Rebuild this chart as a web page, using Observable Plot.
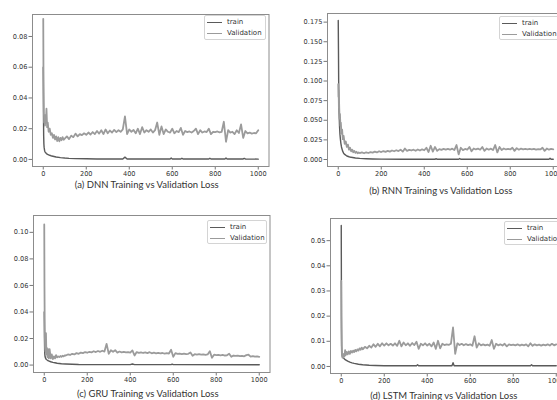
<!DOCTYPE html>
<html><head><meta charset="utf-8">
<script src="https://cdn.jsdelivr.net/npm/d3@7"></script>
<script src="https://cdn.jsdelivr.net/npm/@observablehq/plot@0.6"></script>
<style>
html,body{margin:0;padding:0;background:#fff;overflow:hidden}
#root{position:relative;width:557px;height:400px;overflow:hidden;background:#fff}
.panel{position:absolute}
.legend{position:absolute;box-sizing:border-box;border:1px solid #d4d4d4;border-radius:2px;background:rgba(255,255,255,0.85);font-family:"DejaVu Sans";font-size:7px;color:#333}
.legend .ln{position:absolute;height:0;width:15px}
.legend .tx{position:absolute;line-height:7px;white-space:nowrap}
</style>
</head><body><div id="root"></div>
<script>
// ---- shared x values (epochs) ----
const valEpochs = [0,1,2,3,4,6,8,10,12,15,18,21,25,30,35,40,45,50,55,60,65,70,75,80,85,90,95,
100,110,120,130,140,150,160,170,180,190,200,210,220,230,240,250,260,270,280,290,
300,310,320,330,340,350,360,370,380,390,400,410,420,430,440,450,460,470,480,490,
500,510,520,530,540,550,560,570,580,590,600,610,620,630,640,650,660,670,680,690,
700,710,720,730,740,750,760,770,780,790,800,810,820,830,840,850,860,870,880,890,
900,910,920,930,940,950,960,970,980,990,1000];
const xTicks = [0,200,400,600,800,1000];
const seriesNames = ["train","Validation"];

// ---- (a) DNN ----
const dnnTrainEpochs = [0,1,2,3,4,6,8,10,15,20,30,40,50,60,80,100,120,150,200,250,300,370,380,390,450,590,595,600,640,645,650,770,775,780,845,850,855,930,935,940,1000];
const dnnTrain = [0.06,0.03,0.015,0.010,0.008,0.006,0.005,0.0045,0.0038,0.0033,0.0027,0.0022,0.0019,0.0016,0.0012,0.0009,0.0007,0.0005,0.0004,0.0003,0.0003,0.0003,0.0015,0.0003,0.0003,0.0003,0.0009,0.0003,0.0003,0.0008,0.0003,0.0003,0.0008,0.0003,0.0003,0.0009,0.0003,0.0003,0.0007,0.0003,0.0002];
const dnnVal = [0.0915,0.058,0.043,0.030,0.024,0.029,0.022,0.027,0.024,0.033,0.021,0.024,0.018,0.020,0.016,0.017,0.014,0.016,0.013,0.015,0.012,0.0145,0.0118,0.014,0.0125,0.0145,0.0128,
0.0135,0.015,0.0132,0.0155,0.0145,0.0168,0.0150,0.0165,0.0158,0.0170,0.0160,0.0175,0.0162,0.0178,0.0165,0.0185,0.0168,0.0190,0.0165,0.0195,
0.0170,0.0188,0.0175,0.0192,0.0178,0.0190,0.0180,0.0195,0.0280,0.0165,0.0195,0.0180,0.0192,0.0170,0.0200,0.0165,0.0210,0.0175,0.0190,0.0180,
0.0195,0.0175,0.0190,0.0240,0.0160,0.0215,0.0165,0.0195,0.0180,0.0175,0.0200,0.0170,0.0185,0.0178,0.0205,0.0160,0.0185,0.0178,0.0182,0.0175,
0.0185,0.0200,0.0165,0.0190,0.0175,0.0182,0.0178,0.0200,0.0165,0.0180,0.0178,0.0182,0.0176,0.0180,0.0245,0.0115,0.0190,0.0175,0.0180,0.0165,
0.0190,0.0172,0.0228,0.0140,0.0185,0.0170,0.0175,0.0168,0.0172,0.0170,0.0190];

// ---- (b) RNN ----
const rnnTrainEpochs = [0,1,2,3,4,6,8,10,12,15,20,25,30,40,50,60,80,100,130,160,200,300,450,455,460,560,565,570,980,985,990,1000];
const rnnTrain = [0.177,0.14,0.10,0.075,0.060,0.042,0.032,0.026,0.021,0.016,0.011,0.008,0.0065,0.0045,0.0035,0.0028,0.0019,0.0014,0.0010,0.0007,0.0005,0.0004,0.0003,0.0010,0.0003,0.0003,0.0012,0.0003,0.0003,0.0015,0.0003,0.0003];
const rnnVal = [0.096,0.080,0.088,0.066,0.072,0.052,0.058,0.043,0.047,0.033,0.038,0.026,0.030,0.020,0.023,0.016,0.019,0.0125,0.0150,0.0105,0.0125,0.0092,0.0110,0.0085,0.0098,0.0080,0.0090,
0.0082,0.0090,0.0080,0.0092,0.0083,0.0095,0.0088,0.0100,0.0090,0.0105,0.0095,0.0108,0.0098,0.0110,0.0100,0.0115,0.0105,0.0118,0.0108,0.0125,
0.0100,0.0140,0.0110,0.0122,0.0115,0.0125,0.0112,0.0128,0.0115,0.0130,0.0118,0.0150,0.0095,0.0175,0.0100,0.0160,0.0110,0.0132,0.0122,0.0135,
0.0125,0.0135,0.0125,0.0138,0.0120,0.0185,0.0065,0.0150,0.0120,0.0135,0.0125,0.0160,0.0105,0.0140,0.0128,0.0138,0.0125,0.0160,0.0110,0.0140,
0.0125,0.0138,0.0120,0.0185,0.0090,0.0160,0.0120,0.0140,0.0128,0.0135,0.0128,0.0150,0.0110,0.0145,0.0125,0.0138,0.0128,0.0135,0.0130,0.0135,
0.0128,0.0135,0.0125,0.0132,0.0128,0.0150,0.0110,0.0140,0.0125,0.0135,0.0130];

// ---- (c) GRU ----
const gruTrainEpochs = [0,1,2,3,4,6,8,10,15,20,30,40,50,60,80,100,130,160,200,400,410,420,590,595,600,1000];
const gruTrain = [0.040,0.020,0.010,0.0075,0.0062,0.0052,0.0046,0.0042,0.0036,0.0031,0.0025,0.0020,0.0017,0.0014,0.0010,0.0008,0.0006,0.0004,0.0003,0.0003,0.0008,0.0003,0.0003,0.0007,0.0003,0.0002];
const gruVal = [0.106,0.06,0.035,0.020,0.012,0.010,0.024,0.008,0.013,0.006,0.012,0.005,0.012,0.005,0.008,0.0045,0.0065,0.0050,0.0075,0.0058,0.0065,0.0060,0.0068,0.0062,0.0070,0.0065,0.0072,
0.0072,0.0080,0.0076,0.0085,0.0080,0.0090,0.0085,0.0094,0.0090,0.0098,0.0093,0.0100,0.0096,0.0104,0.0098,0.0106,0.0100,0.0108,0.0102,0.0160,
0.0085,0.0112,0.0100,0.0112,0.0094,0.0102,0.0096,0.0100,0.0095,0.0098,0.0094,0.0110,0.0072,0.0098,0.0092,0.0096,0.0091,0.0095,0.0090,0.0097,
0.0089,0.0093,0.0088,0.0092,0.0088,0.0091,0.0086,0.0090,0.0087,0.0115,0.0062,0.0090,0.0084,0.0087,0.0083,0.0086,0.0082,0.0085,0.0095,0.0070,
0.0082,0.0079,0.0082,0.0078,0.0081,0.0077,0.0080,0.0105,0.0055,0.0078,0.0075,0.0077,0.0073,0.0076,0.0072,0.0074,0.0085,0.0062,0.0072,0.0069,
0.0071,0.0067,0.0070,0.0066,0.0075,0.0078,0.0064,0.0068,0.0063,0.0066,0.0062];

// ---- (d) LSTM ----
const lstmTrainEpochs = [0,1,2,3,4,6,8,10,15,20,30,40,50,60,80,100,130,160,200,350,355,360,515,520,525,880,885,890,1000];
const lstmTrain = [0.056,0.02,0.008,0.005,0.0045,0.0040,0.0037,0.0034,0.0030,0.0026,0.0021,0.0017,0.0014,0.0012,0.0009,0.0007,0.0005,0.0004,0.0003,0.0003,0.0007,0.0003,0.0003,0.0015,0.0003,0.0003,0.0007,0.0003,0.0003];
const lstmVal = [0.034,0.015,0.008,0.005,0.004,0.0035,0.0045,0.0035,0.005,0.0040,0.0065,0.0045,0.0058,0.0048,0.0060,0.0050,0.0062,0.0055,0.0063,0.0057,0.0066,0.0060,0.0068,0.0063,0.0072,0.0066,0.0075,
0.0068,0.0078,0.0072,0.0082,0.0075,0.0088,0.0078,0.0090,0.0080,0.0092,0.0083,0.0092,0.0084,0.0090,0.0083,0.0092,0.0082,0.0102,0.0080,0.0095,
0.0084,0.0092,0.0082,0.0093,0.0085,0.0098,0.0070,0.0090,0.0084,0.0092,0.0083,0.0090,0.0080,0.0095,0.0070,0.0102,0.0072,0.0090,0.0085,0.0088,
0.0086,0.0090,0.0155,0.0050,0.0092,0.0085,0.0090,0.0084,0.0089,0.0085,0.0088,0.0082,0.0120,0.0075,0.0092,0.0084,0.0088,0.0084,0.0087,0.0082,
0.0105,0.0070,0.0090,0.0084,0.0088,0.0083,0.0090,0.0080,0.0088,0.0085,0.0087,0.0084,0.0088,0.0083,0.0087,0.0084,0.0088,0.0080,0.0092,0.0082,
0.0088,0.0084,0.0087,0.0083,0.0087,0.0084,0.0088,0.0083,0.0090,0.0084,0.0088];

// ---- y axes ----
const dnnYTicks = [0,0.02,0.04,0.06,0.08];
const rnnYTicks = [0,0.025,0.05,0.075,0.1,0.125,0.15,0.175];
const gruYTicks = [0,0.02,0.04,0.06,0.08,0.10];
const lstmYTicks = [0,0.01,0.02,0.03,0.04,0.05];
const titles = ["(a) DNN Training vs Validation Loss","(b) RNN Training vs Validation Loss","(c) GRU Training vs Validation Loss","(d) LSTM Training vs Validation Loss"];

const trainColor = "#5a5a5a", valColor = "#9b9b9b";
const rows = (ep, vals) => ep.map((e, i) => ({epoch: e, loss: vals[i]}));

const panels = [
  {left:0, top:0, width:278, mL:32, mT:14, mB:34, yDomain:[-0.0046,0.0943], yTicks:dnnYTicks, fmt:".2f",
   train:rows(dnnTrainEpochs,dnnTrain), val:rows(valEpochs,dnnVal), title:titles[0], tdy:18, tdx:-4,
   leg:{left:204, top:15, w:62, h:25}},
  {left:277, top:0, width:300, mL:50, mT:13, mB:34, yDomain:[-0.0089,0.186], yTicks:rnnYTicks, fmt:".3f",
   train:rows(rnnTrainEpochs,rnnTrain), val:rows(valEpochs,rnnVal), title:titles[1], tdy:24, tdx:-5,
   leg:{left:499, top:16, w:64, h:24}},
  {left:0, top:200, width:280, mL:33, mT:15, mB:28, yDomain:[-0.0056,0.1127], yTicks:gruYTicks, fmt:".2f",
   train:rows(gruTrainEpochs,gruTrain), val:rows(valEpochs,gruVal), title:titles[2], tdy:21, tdx:-4,
   leg:{left:207, top:220, w:60, h:24}},
  {left:277, top:200, width:300, mL:53, mT:18, mB:27, yDomain:[-0.0028,0.0588], yTicks:lstmYTicks, fmt:".2f",
   train:rows(lstmTrainEpochs,lstmTrain), val:rows(valEpochs,lstmVal), title:titles[3], tdy:22, tdx:-5,
   leg:{left:504, top:221, w:64, h:24}}
];

const root = document.getElementById("root");
for (const p of panels) {
  const frameW = 236.5;
  const chart = Plot.plot({
    width: p.width, height: 200,
    marginLeft: p.mL, marginTop: p.mT, marginBottom: p.mB,
    marginRight: p.width - p.mL - frameW,
    style: {fontFamily: "DejaVu Sans", fontSize: "6.6px", color: "#333", background: "transparent", overflow: "visible"},
    x: {domain: [-50, 1050]},
    y: {domain: p.yDomain},
    marks: [
      Plot.axisX({ticks: xTicks, tickSize: 3.5, tickPadding: 1, tickFormat: d3.format("d"), label: null, stroke: "#777", fill: "#333"}),
      Plot.axisY({ticks: p.yTicks, tickSize: 3.5, tickPadding: 1.5, tickFormat: d3.format(p.fmt), label: null, stroke: "#777", fill: "#333"}),
      Plot.line(p.train, {x: "epoch", y: "loss", stroke: trainColor, strokeWidth: 1.4}),
      Plot.line(p.val, {x: "epoch", y: "loss", stroke: valColor, strokeWidth: 1.8}),
      Plot.frame({stroke: "#8c8c8c", strokeWidth: 1}),
      Plot.text([p.title], {text: d => d, frameAnchor: "bottom", dy: p.tdy, dx: p.tdx, lineAnchor: "middle",
        fontFamily: "Lato", fontSize: 9.5, fill: "#333"})
    ]
  });
  chart.classList.add("panel");
  chart.style.left = p.left + "px";
  chart.style.top = p.top + "px";
  chart.style.position = "absolute";
  root.appendChild(chart);

  const lg = document.createElement("div");
  lg.className = "legend";
  Object.assign(lg.style, {left: p.leg.left + "px", top: p.leg.top + "px", width: p.leg.w + "px", height: p.leg.h + "px"});
  [trainColor, valColor].forEach((c, i) => {
    const ln = document.createElement("div");
    ln.className = "ln";
    Object.assign(ln.style, {left: "2px", top: (6 + i * 11) + "px", borderTop: "1.4px solid " + c});
    const tx = document.createElement("div");
    tx.className = "tx";
    tx.textContent = seriesNames[i];
    Object.assign(tx.style, {left: "22px", top: (2.5 + i * 11) + "px"});
    lg.appendChild(ln); lg.appendChild(tx);
  });
  root.appendChild(lg);
}
</script>
</body></html>
